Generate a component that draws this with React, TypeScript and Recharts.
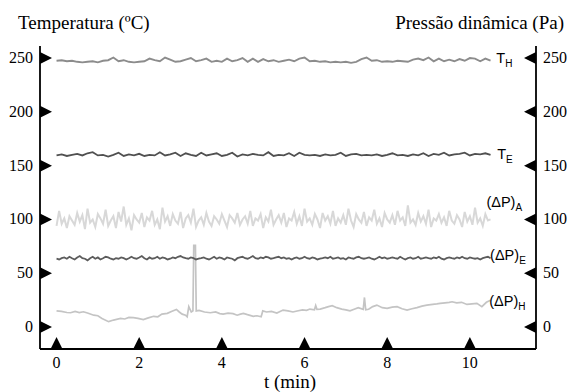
import React from 'react';
import { LineChart, Line, XAxis, YAxis, ReferenceDot } from 'recharts';

const SERIF = '"Liberation Serif", "Times New Roman", serif';
const SANS = '"Liberation Sans", Arial, sans-serif';

const T_END = 10.5;
const X_TICKS = [0, 2, 4, 6, 8, 10];
const Y_TICKS = [0, 50, 100, 150, 200, 250];
const X_DOMAIN: [number, number] = [-0.4, 11.6];
const Y_DOMAIN: [number, number] = [-20.4, 261.2];

// T_H (temperature, hot side) sampled evenly over 0..10.5 min
const tempH = [
  247.5, 248, 247, 247.5, 246.5, 246, 246.5, 247, 246, 247.5,
  248, 250.5, 247, 248, 246.5, 246, 246.5, 247, 249.5, 248,
  247, 250.5, 248.5, 246.5, 247, 248.5, 250, 247, 248, 249.5,
  246.5, 247.5, 246.5, 249.5, 247, 248, 250, 246.5, 249.5, 246.5,
  249, 247, 248, 246.5, 247.5, 248.5, 247, 249.5, 250.5, 247,
  247.5, 246.5, 247, 246, 246.5, 246, 246.5, 245.5, 246.5, 249,
  250.5, 247.5, 248, 246.5, 247, 246.5, 247.5, 247, 246.5, 248.5,
  249.5, 248, 250.5, 247, 249.5, 247, 248.5, 247, 249, 247.5,
  250, 249.5, 247, 249.5, 247.5,
];

// T_E
const tempE = [
  159.5, 160.5, 159, 160, 161, 159.5, 161.5, 162.5, 159.5, 160,
  158.5, 160, 162, 159, 160.5, 159.5, 161, 159, 160, 159.5,
  162.5, 159.5, 160.5, 162, 159, 161.5, 160, 159, 162, 159.5,
  160.5, 161.5, 159, 160, 162, 158.5, 160.5, 159.5, 161, 160,
  159.5, 162.5, 159, 160, 159.5, 161.5, 159, 162, 160, 159.5,
  160, 159, 160.5, 159.5, 160, 162, 159, 160.5, 161, 159.5,
  160, 159.5, 160.5, 159, 160, 161.5, 159.5, 160, 159, 160.5,
  159.5, 161.5, 159, 161, 160, 162, 159.5, 160.5, 161, 162,
  159.5, 161, 160.5, 161.5, 160,
];

// (ΔP)_A
const dpA = [
  94, 108, 96, 101, 92, 103, 99, 95, 106, 98,
  104, 91, 110, 97, 100, 93, 105, 101, 96, 109,
  94, 99, 103, 92, 107, 98, 112, 95, 101, 90,
  104, 100, 97, 106, 93, 102, 99, 108, 95, 100,
  91, 111, 98, 103, 94, 105, 99, 96, 107, 92,
  101, 104, 97, 110, 93, 99, 102, 95, 106, 98,
  94, 103, 100, 96, 105, 99, 93, 104, 101, 97,
  106, 95, 100, 103, 96, 108, 94, 101, 99, 105,
  92, 102, 98, 109, 95, 100, 104, 97, 106, 93,
  101, 99, 107, 96, 103, 94, 110, 98, 101, 95,
  105, 100, 92, 106, 99, 103, 96, 108, 94, 101,
  97, 104, 95, 110, 99, 93, 105, 100, 97, 107,
  94, 102, 99, 109, 96, 101, 93, 106, 100, 97,
  104, 95, 108, 99, 102, 94, 113, 97, 100, 95,
  106, 98, 103, 96, 109, 93, 101, 99, 105, 97,
  102, 94, 108, 99, 96, 104, 100, 93, 107, 98,
  103, 95, 111, 97, 101, 94, 105, 99, 100,
];

// (ΔP)_E
const dpE = [
  63.5, 62.8, 64, 64.7, 63.5, 65.3, 64, 62.8, 64.7, 66,
  64, 63.5, 62, 64, 65.3, 63.5, 64.7, 62.8, 64, 65.3,
  64.7, 63.5, 62.8, 64, 63.5, 64.7, 64, 62.8, 64, 65.3,
  64, 63.5, 64.7, 66, 64, 62.8, 64.7, 63.5, 64, 65.3,
  63.5, 64.7, 64, 62.8, 63.5, 64.7, 64, 65.3, 66, 64.7,
  64, 63.5, 64.7, 64, 62.8, 63.5, 64, 64.7, 63.5, 62.8,
  64, 65.3, 63.5, 64.7, 64, 62.8, 64.7, 64, 63.5, 62,
  64, 64.7, 65.3, 64, 63.5, 64.7, 66, 64, 63.5, 64.7,
  64, 65.3, 64.7, 63.5, 64, 64.7, 65.3, 64, 64.7, 63.5,
  64, 62.8, 64, 64.7, 63.5, 64, 65.3, 64, 63.5, 64.7,
  64, 62.8, 63.5, 64, 64.7, 64, 65.3, 63.5, 64, 64.7,
  63.5, 64, 62.8, 64.7, 64, 63.5, 64.7, 65.3, 64, 63.5,
  64, 64.7, 63.5, 62.8, 64, 65.3, 64, 64.7, 63.5, 64,
  64.7, 64, 63.5, 65.3, 64, 62.8, 64, 64.7, 63.5, 64,
  65.3, 63.5, 64, 64.7, 64, 63.5, 64.7, 64, 65.3, 63.5,
  62.8, 64, 64.7, 64, 63.5, 64.7, 64, 65.3, 64, 63.5,
  64.7, 64, 63.5, 64, 62.8, 64, 64.7, 65.3, 64,
];

// (ΔP)_H, irregular sampling (two sharp spikes)
const dpHTimes = [
  0, 0.12, 0.25, 0.34, 0.45, 0.55, 0.65, 0.75, 0.9, 1.0,
  1.1, 1.26, 1.38, 1.55, 1.65, 1.75, 1.86, 1.97, 2.1, 2.22,
  2.35, 2.45, 2.55, 2.68, 2.78, 2.9, 2.97, 3.04, 3.12, 3.16,
  3.2, 3.26, 3.3, 3.32, 3.36, 3.38, 3.45, 3.58, 3.72, 3.85,
  3.95, 4.03, 4.15, 4.27, 4.37, 4.45, 4.52, 4.62, 4.76, 4.85,
  4.95, 4.99, 5.08, 5.2, 5.33, 5.48, 5.6, 5.72, 5.82, 5.95,
  6.05, 6.13, 6.24, 6.27, 6.3, 6.38, 6.5, 6.58, 6.67, 6.78,
  6.9, 7.0, 7.1, 7.2, 7.3, 7.42, 7.45, 7.48, 7.55, 7.65,
  7.75, 7.88, 8.0, 8.12, 8.24, 8.36, 8.48, 8.6, 8.72, 8.84,
  8.96, 9.1, 9.2, 9.28, 9.4, 9.5, 9.57, 9.68, 9.8, 9.93,
  10.05, 10.17, 10.29, 10.4, 10.5,
];
const dpHValues = [
  15, 14.5, 13.5, 13.3, 14.5, 13.5, 14.2, 13, 11, 10.5,
  8, 5, 6.5, 8, 7.5, 9, 8.7, 8, 7, 8.5,
  10, 9.5, 12, 12.7, 14.5, 16.4, 14, 12, 11, 9.6,
  19, 14, 15, 76, 76, 15, 15.5, 14, 13.3, 14,
  12.5, 12, 13, 12.5, 11, 12, 12.7, 11.5, 10, 10.5,
  9.6, 15, 14, 14.5, 13, 15.8, 15, 14, 14.9, 16,
  15.5, 16.7, 16, 20, 16.5, 16.7, 18, 19, 19.8, 18,
  16.7, 16, 15, 16.5, 18, 16.5, 27.5, 16, 16.5, 19,
  20.4, 18, 17.3, 18.5, 18.9, 17, 15.8, 17, 18, 19.5,
  20.4, 21, 21.5, 22, 22.5, 23, 23.5, 22.5, 23, 21,
  21.5, 22, 19, 23, 25,
];

const evenly = (vals: number[]) =>
  vals.map((v, i) => ({ t: (i * T_END) / (vals.length - 1), v }));

const dataTH = evenly(tempH);
const dataTE = evenly(tempE);
const dataA = evenly(dpA);
const dataE = evenly(dpE);
const dataH = dpHTimes.map((t, i) => ({ t, v: dpHValues[i] }));

// series name labels: main text, subscript, anchor (t, value at baseline)
const seriesLabels = [
  { main: 'T', sub: 'H', t: 10.64, v: 245.4 },
  { main: 'T', sub: 'E', t: 10.66, v: 156.5 },
  { main: '(ΔP)', sub: 'A', t: 10.4, v: 112 },
  { main: '(ΔP)', sub: 'E', t: 10.49, v: 62.5 },
  { main: '(ΔP)', sub: 'H', t: 10.47, v: 19.5 },
];

const LeftTick = (props: any) => {
  const { x, y, payload } = props;
  return (
    <g>
      <path d={`M${x},${y - 6}L${x + 12},${y}L${x},${y + 6}Z`} fill="#000" />
      <text x={x - 7} y={y + 5} textAnchor="end" fontFamily={SERIF} fontSize={16} fill="#000">
        {payload.value}
      </text>
    </g>
  );
};

const RightTick = (props: any) => {
  const { x, y, payload } = props;
  return (
    <g>
      <path d={`M${x},${y - 6}L${x - 12},${y}L${x},${y + 6}Z`} fill="#000" />
      <text x={x + 7} y={y + 5} textAnchor="start" fontFamily={SERIF} fontSize={16} fill="#000">
        {payload.value}
      </text>
    </g>
  );
};

const BottomTick = (props: any) => {
  const { x, y, payload } = props;
  return (
    <g>
      <path d={`M${x - 6},${y}L${x},${y - 12}L${x + 6},${y}Z`} fill="#000" />
      <text x={x} y={y + 19} textAnchor="middle" fontFamily={SERIF} fontSize={16} fill="#000">
        {payload.value}
      </text>
    </g>
  );
};

const makeLabel = (main: string, sub: string) => (props: any) => {
  const vb = props.viewBox || {};
  const x = (vb.x ?? 0) + (vb.width ?? 0) / 2;
  const y = (vb.y ?? 0) + (vb.height ?? 0) / 2;
  return (
    <text x={x} y={y} fontFamily={SANS} fontSize={14.5} fill="#000">
      {main}
      <tspan dy={4} fontSize={10}>
        {sub}
      </tspan>
    </text>
  );
};

const AXIS_STROKE = { stroke: '#000', strokeWidth: 1.8 };

export default function App() {
  return (
    <div style={{ position: 'absolute', left: 0, top: 0, width: 567, height: 392, background: '#fff' }}>
      <LineChart width={567} height={392} margin={{ top: 46, right: 0, bottom: 0, left: 0 }}>
        <XAxis
          xAxisId="b"
          type="number"
          dataKey="t"
          domain={X_DOMAIN}
          allowDataOverflow
          ticks={X_TICKS}
          height={43}
          tickSize={0}
          tickMargin={0}
          tickLine={false}
          axisLine={AXIS_STROKE}
          tick={<BottomTick />}
        />
        <XAxis
          xAxisId="top"
          orientation="top"
          type="number"
          dataKey="t"
          domain={X_DOMAIN}
          allowDataOverflow
          height={0}
          tick={false}
          tickLine={false}
          axisLine={AXIS_STROKE}
        />
        <YAxis
          yAxisId="l"
          orientation="left"
          type="number"
          domain={Y_DOMAIN}
          allowDataOverflow
          ticks={Y_TICKS}
          width={40}
          tickSize={0}
          tickMargin={0}
          tickLine={false}
          axisLine={AXIS_STROKE}
          tick={<LeftTick />}
        />
        <YAxis
          yAxisId="r"
          orientation="right"
          type="number"
          domain={Y_DOMAIN}
          allowDataOverflow
          ticks={Y_TICKS}
          width={31}
          tickSize={0}
          tickMargin={0}
          tickLine={false}
          axisLine={AXIS_STROKE}
          tick={<RightTick />}
        />
        <Line xAxisId="b" yAxisId="l" data={dataA} dataKey="v" stroke="#d8d8d8" strokeWidth={2} dot={false} isAnimationActive={false} />
        <Line xAxisId="b" yAxisId="l" data={dataH} dataKey="v" stroke="#c4c4c4" strokeWidth={1.7} dot={false} isAnimationActive={false} />
        <Line xAxisId="b" yAxisId="l" data={dataE} dataKey="v" stroke="#5c5c5c" strokeWidth={1.8} dot={false} isAnimationActive={false} />
        <Line xAxisId="b" yAxisId="l" data={dataTE} dataKey="v" stroke="#505050" strokeWidth={1.8} dot={false} isAnimationActive={false} />
        <Line xAxisId="b" yAxisId="l" data={dataTH} dataKey="v" stroke="#8c8c8c" strokeWidth={1.9} dot={false} isAnimationActive={false} />
        {seriesLabels.map((s) => (
          <ReferenceDot
            key={s.main + s.sub}
            xAxisId="b"
            yAxisId="l"
            x={s.t}
            y={s.v}
            r={0}
            fill="none"
            stroke="none"
            label={{ content: makeLabel(s.main, s.sub) }}
          />
        ))}
      </LineChart>
      <svg
        width={567}
        height={392}
        style={{ position: 'absolute', left: 0, top: 0, pointerEvents: 'none' }}
      >
        <text x={18} y={29} fontFamily={SERIF} fontSize={19} fill="#000">
          Temperatura (ºC)
        </text>
        <text x={564} y={29} textAnchor="end" fontFamily={SERIF} fontSize={19} fill="#000">
          Pressão dinâmica (Pa)
        </text>
        <text x={290} y={388} textAnchor="middle" fontFamily={SERIF} fontSize={19} fill="#000">
          t (min)
        </text>
      </svg>
    </div>
  );
}
